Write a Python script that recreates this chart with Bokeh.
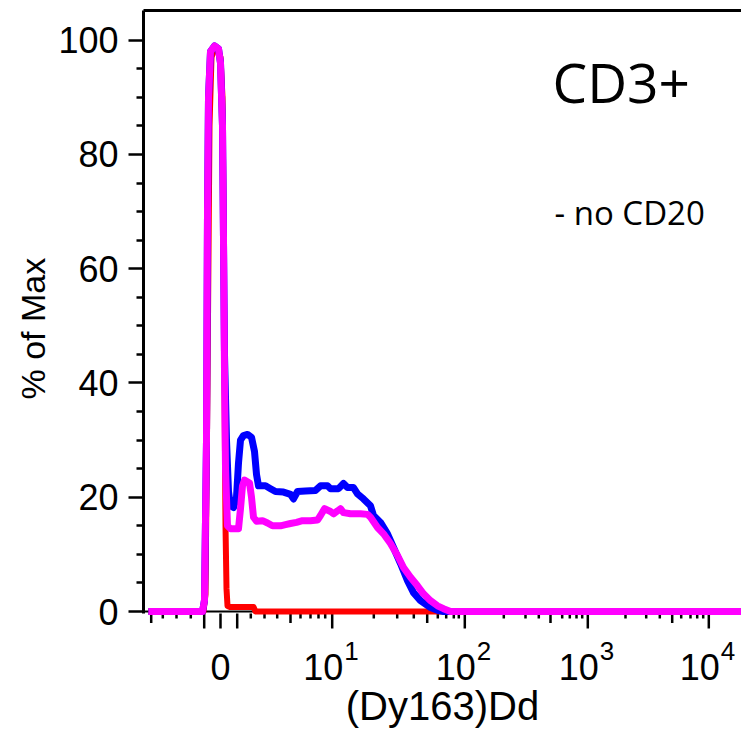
from bokeh.plotting import figure
from bokeh.models import FixedTicker, LinearAxis, Label, Span, Range1d, Title
from bokeh.embed import file_html
from bokeh.resources import INLINE

# ---- data (x in display-scale units: 0 = zero channel, decades listed below) ----
x_red = [-72, -17, -15, -13, -11, -9, -6, -3, 0, 2, 3, 4, 5, 6, 7, 9, 33, 35, 521]
y_red = [0, 0, 3, 40, 85, 97, 98.5, 98.5, 97, 90, 70, 40, 15, 4, 1, 0.8, 0.8, 0, 0]

x_blue = [-72, -18, -16, -14, -13, -12, -10, -6, -2, 0, 2, 3, 4, 6, 8, 10, 13, 16, 18, 20,
          23, 27, 31, 34, 36, 38, 45, 50, 55, 63, 70, 73, 77, 85, 95, 100, 107, 110, 118,
          123, 127, 133, 137, 143, 150, 153, 160, 167, 173, 180, 187, 193, 200, 210, 217,
          223, 521]
y_blue = [0, 0, 2, 30, 70, 90, 98, 99, 98.5, 96, 85, 65, 45, 30, 21, 18.5, 18.2, 20, 26, 30,
          30.8, 31, 30.5, 28, 24, 22, 22, 21.5, 21, 20.9, 20.5, 19.7, 21, 21.1, 21.2, 22, 22,
          21.5, 21.5, 22.4, 21.7, 21.7, 20.6, 19.7, 18.5, 16.8, 15.6, 13.6, 11.2, 8.4, 5.4,
          3.3, 1.9, 0.7, 0.2, 0, 0]

x_mag = [-72, -18, -16, -14, -13, -12, -10, -6, -2, 0, 2, 3, 4, 5, 7, 10, 15, 18, 20, 22,
         24, 29, 31, 33, 36, 42, 47, 52, 60, 65, 70, 76, 82, 90, 97, 100, 104, 110, 113,
         117, 120, 123, 130, 140, 147, 150, 157, 163, 170, 177, 183, 190, 197, 203, 210,
         217, 223, 230, 521]
y_mag = [0, 0, 2, 30, 70, 90, 98, 99, 98.5, 96, 85, 65, 42, 25, 15, 14.5, 14.5, 14.5, 18, 22,
         23, 22.5, 20, 16.5, 15.8, 15.9, 15.5, 15, 15, 15.2, 15.4, 15.6, 15.9, 15.9, 16, 16.8,
         18, 17.5, 17.1, 17.6, 18, 17.3, 17.1, 17.1, 17, 16.5, 14.7, 13.6, 11.9, 9.8, 7.7, 6,
         4.5, 3.1, 1.9, 1, 0.5, 0, 0]

# ---- axis ticks ----
x_major_ticks = [-16.3, 0, 16.7, 111.7, 244.3, 367.3, 488.3]
x_medium_ticks = [-69.3, 70, 206.7, 330, 451.7]
x_minor_ticks = [-57.7, -44, -29.7, 30.3, 44, 56.7, 80, 90, 98, 104.7,
                 153.3, 176.7, 193.3, 217.3, 225.7, 233.3, 238.3,
                 283.3, 305, 318.3, 341.7, 349.3, 356, 361.7,
                 405, 425.7, 439.3, 460.7, 470, 476.7, 482.7]
decade_pos = [111.7, 244.3, 367.3, 488.3]
decade_exp = ["1", "2", "3", "4"]
zero_label = "0"
y_major_ticks = [0, 20, 40, 60, 80, 100]
y_minor_ticks = [5, 10, 15, 25, 30, 35, 45, 50, 55, 65, 70, 75, 85, 90, 95]

PX = 5.713                      # pixels per y unit
X0, X1 = -77, 521
Y1 = 601 / PX                   # top of frame
Y0 = -119 / PX                  # frame reaches bottom of the page (tick / label zone)
AX = -2 / PX                    # x-axis position (just under y = 0)

p = figure(width=741, height=730, x_range=Range1d(X0, X1), y_range=Range1d(Y0, Y1),
           output_backend="svg", toolbar_location=None, x_axis_location=None,
           min_border_left=143, min_border_right=0, min_border_top=10, min_border_bottom=0)
p.outline_line_color = None
p.grid.grid_line_color = None
p.background_fill_color = "white"
p.border_fill_color = "white"

# y axis
ya = p.yaxis[0]
ya.bounds = (AX, Y1)
ya.ticker = FixedTicker(ticks=y_major_ticks, minor_ticks=y_minor_ticks)
ya.axis_line_width = 3
ya.axis_line_color = "black"
ya.major_tick_out = 15
ya.major_tick_in = 0
ya.minor_tick_out = 7
ya.minor_tick_in = 0
ya.major_tick_line_width = 2.5
ya.minor_tick_line_width = 2.5
ya.major_label_text_font = "Liberation Sans"
ya.major_label_text_font_size = "36px"
ya.major_label_text_color = "black"
ya.major_label_standoff = 10

p.add_layout(Title(text="% of Max", align="left", offset=331, standoff=8,
                   text_font="Liberation Sans", text_font_size="34px",
                   text_font_style="normal", text_color="black"), "left")

# top border
p.add_layout(LinearAxis(ticker=FixedTicker(ticks=[]), axis_line_width=3,
                        axis_line_color="black", major_tick_out=0, major_tick_in=0,
                        minor_tick_out=0, minor_tick_in=0, major_label_standoff=0), "above")

# baseline
p.add_layout(Span(location=0, dimension="width", line_color="black", line_width=2, level="underlay"))

# x ticks (three lengths)
def ticks(pos, length_px):
    p.segment(x0=pos, y0=[AX] * len(pos), x1=pos, y1=[AX - length_px / PX] * len(pos),
              line_color="black", line_width=2.5)

ticks(x_major_ticks, 15)
ticks(x_medium_ticks, 9.5)
ticks(x_minor_ticks, 5)

# data
p.line(x_red, y_red, line_color="#ff0000", line_width=6, line_join="round")
p.line(x_blue, y_blue, line_color="#0000ff", line_width=7, line_join="round")
p.line(x_mag, y_mag, line_color="#ff00ff", line_width=7, line_join="round")

# x tick labels
TF = "Liberation Sans"
lab_y = -(666 - 611) / PX
sup_y = -(650 - 611) / PX
p.add_layout(Label(x=0, y=lab_y, text=zero_label, text_align="center", text_baseline="middle",
                   text_font=TF, text_font_size="36px", text_color="black"))
for pos, e in zip(decade_pos, decade_exp):
    p.add_layout(Label(x=pos + 11, y=lab_y, text="10", text_align="right",
                       text_baseline="middle", text_font=TF, text_font_size="36px",
                       text_color="black"))
    p.add_layout(Label(x=pos + 12, y=sup_y, text=e, text_align="left",
                       text_baseline="middle", text_font=TF, text_font_size="26px",
                       text_color="black"))

p.add_layout(Label(x=(X0 + X1) / 2, y=-(705 - 611) / PX, text="(Dy163)Dd", text_align="center",
                   text_baseline="middle", text_font=TF, text_font_size="40px",
                   text_color="black"))

# annotations
p.add_layout(Label(x=332, y=(611 - 80.5) / PX, text="CD3+", text_font="Open Sans",
                   text_font_size="55px", text_baseline="middle", text_color="black"))
p.add_layout(Label(x=334, y=(611 - 211.5) / PX, text="- no CD20", text_font="Open Sans",
                   text_font_size="33px", text_baseline="middle", text_color="black"))

open("out.html", "w").write(file_html(p, INLINE))
